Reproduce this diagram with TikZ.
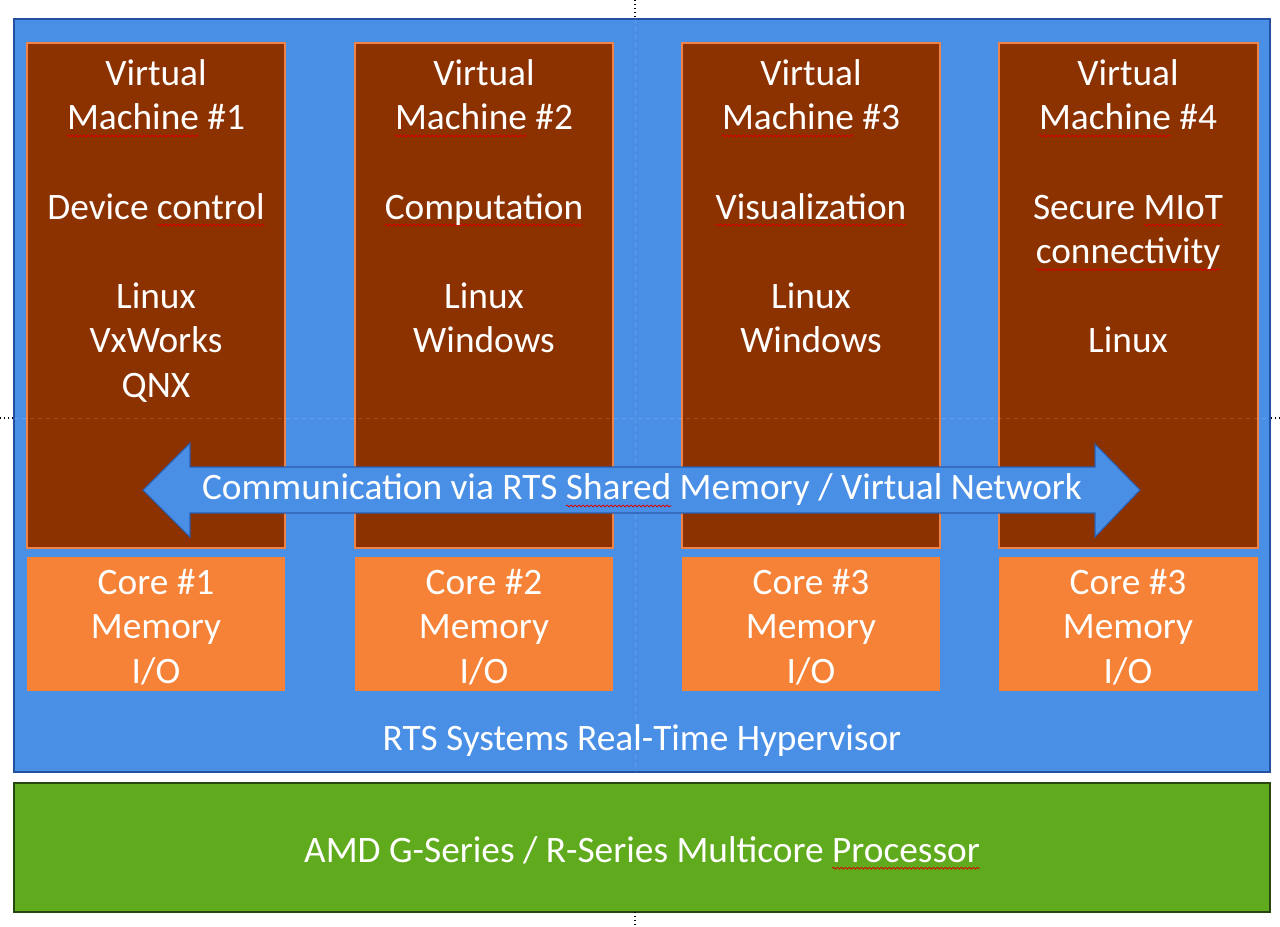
\documentclass[tikz,border=0pt]{standalone}
\usepackage{fontspec}
\setmainfont{Carlito}
\usetikzlibrary{decorations.pathmorphing}
\definecolor{hvblue}{RGB}{74,143,230}
\definecolor{hvborder}{RGB}{35,80,160}
\definecolor{vmbrown}{RGB}{140,50,0}
\definecolor{vmedge}{RGB}{240,130,70}
\definecolor{coreorange}{RGB}{245,130,55}
\definecolor{cpugreen}{RGB}{96,170,30}
\definecolor{cpuborder}{RGB}{40,70,15}
\tikzset{
  hvbox/.style={fill=hvblue, draw=hvborder, line width=1.6pt},
  cpubox/.style={fill=cpugreen, draw=cpuborder, line width=1.6pt},
  vmbox/.style={fill=vmbrown, draw=vmedge, line width=1.2pt},
  corebox/.style={fill=coreorange, draw=none},
  commarrow/.style={fill=hvblue, draw=hvborder!80!hvblue, line width=0.8pt},
  lbl/.style={text=white, inner sep=0pt, align=center, font=\fontsize{28}{33.4}\selectfont},
  guide/.style={dotted, line width=1pt, black},
  wavy/.style={draw=red!85!black, line width=0.6pt, decorate,
    decoration={snake, amplitude=0.7pt, segment length=3pt}}
}
\newcommand\rw[1]{\setbox0\hbox{#1}\leavevmode\rlap{\tikz[overlay,baseline=0pt,x=1pt,y=1pt]\draw[wavy] (0,-4.5) -- (\the\wd0,-4.5);}\box0\relax}
\begin{document}
\begin{tikzpicture}[x=0.75pt, y=-0.75pt]
\useasboundingbox (0,0) rectangle (1280,926);
\fill[white] (0,0) rectangle (1280,926);

% hypervisor and processor
\draw[hvbox] (14,19) rectangle (1270,772);
\draw[cpubox] (14,783) rectangle (1270,912);

% virtual machines and cores
\draw[vmbox] (27,43) rectangle (285,548);
\draw[vmbox] (355,43) rectangle (613,548);
\draw[vmbox] (682,43) rectangle (940,548);
\draw[vmbox] (999,43) rectangle (1258,548);
\fill[corebox] (27,557) rectangle (285,691);
\fill[corebox] (355,557) rectangle (613,691);
\fill[corebox] (682,557) rectangle (940,691);
\fill[corebox] (999,557) rectangle (1258,691);

% faint guide lines
\draw[white, opacity=0.15, dash pattern=on 3pt off 3pt] (14,418) -- (1270,418);
\draw[white, opacity=0.12, dash pattern=on 3pt off 3pt] (635,19) -- (635,772);
\draw[guide] (635,0) -- (635,19);
\draw[guide] (635,912) -- (635,926);
\draw[guide] (0,418) -- (13,418);
\draw[guide] (1271,418) -- (1280,418);

% communication arrow
\draw[commarrow] (143,490) -- (190,443) -- (190,467) -- (1095,467) -- (1095,444)
  -- (1140,490) -- (1095,537) -- (1095,513) -- (190,513) -- (190,537) -- cycle;

% VM texts
\node[lbl, anchor=north] (vm1) at (156,54) {\strut Virtual\\\rw{Machine} \#1\\[33.4pt]Device \rw{control}\\[33.4pt]Linux\\VxWorks\\QNX};
\node[lbl, anchor=north] (vm2) at (484,54) {\strut Virtual\\\rw{Machine} \#2\\[33.4pt]\rw{Computation}\\[33.4pt]Linux\\Windows};
\node[lbl, anchor=north] (vm3) at (811,54) {\strut Virtual\\\rw{Machine} \#3\\[33.4pt]\rw{Visualization}\\[33.4pt]Linux\\Windows};
\node[lbl, anchor=north] (vm4) at (1128,54) {\strut Virtual\\\rw{Machine} \#4\\[33.4pt]Secure \rw{MIoT}\\\rw{connectivity}\\[33.4pt]Linux};

% core texts
\node[lbl] (c1) at (156,627) {Core \#1\\Memory\\I/O};
\node[lbl] (c2) at (484,627) {Core \#2\\Memory\\I/O};
\node[lbl] (c3) at (811,627) {Core \#3\\Memory\\I/O};
\node[lbl] (c4) at (1128,627) {Core \#3\\Memory\\I/O};

% other labels
\node[lbl] (comm) at (642,490) {Communication via RTS \rw{Shared} Memory / Virtual Network};
\node[lbl] (hv) at (642,741) {RTS Systems Real-Time Hypervisor};
\node[lbl] (cpu) at (642,850) {AMD G-Series / R-Series Multicore \rw{Processor}};
\end{tikzpicture}
\end{document}
